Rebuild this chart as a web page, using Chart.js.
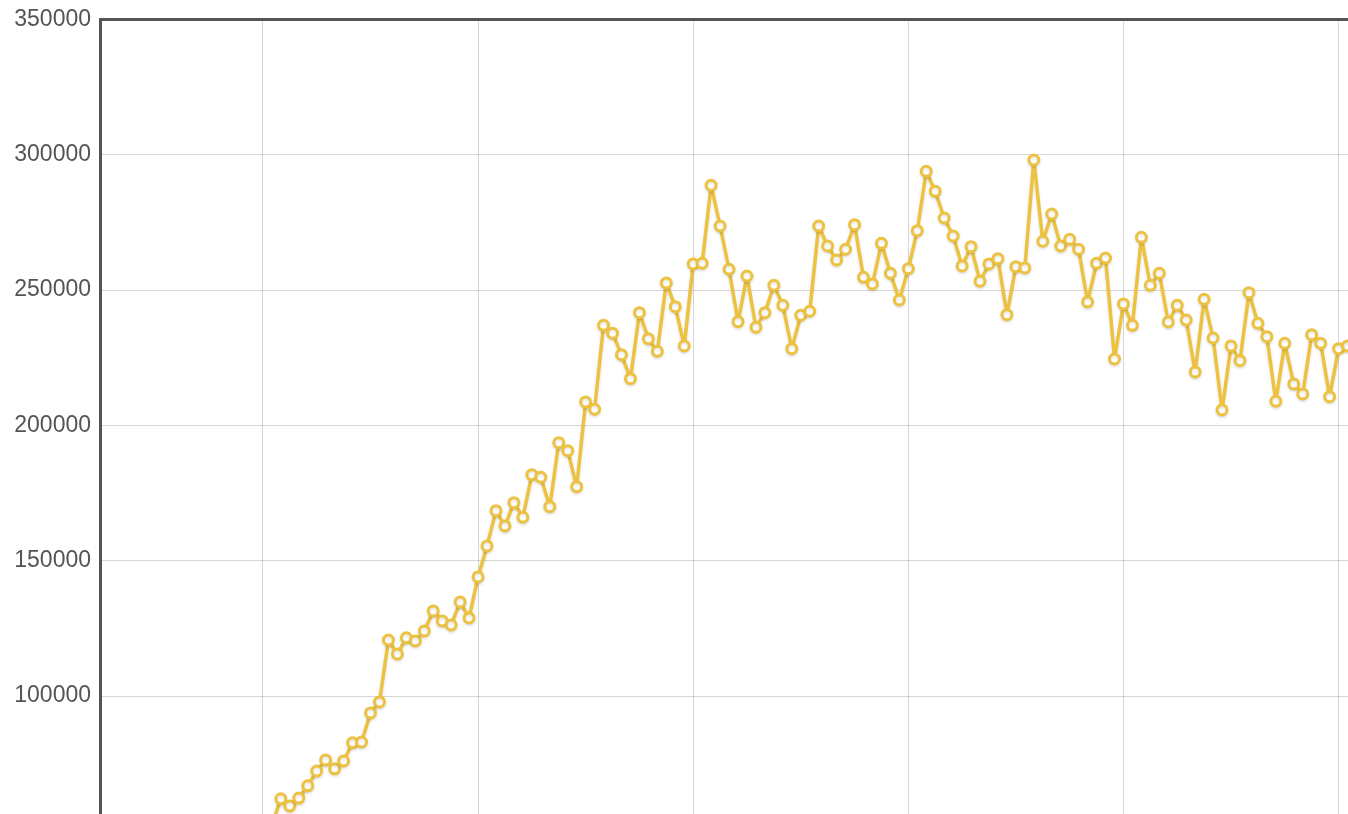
<!DOCTYPE html>
<html>
<head>
<meta charset="utf-8">
<script src="https://cdn.jsdelivr.net/npm/chart.js@4/dist/chart.umd.min.js"></script>
<style>
  html, body { margin: 0; padding: 0; background: #fff; overflow: hidden; }
  #wrap { width: 1348px; height: 814px; }
</style>
</head>
<body>
<div id="wrap"><canvas id="chart" width="1348" height="814"></canvas></div>
<script>
"use strict";

// period numbers start at 1, the first one sits below the visible range
const firstPeriod = 1;
const values = [
  52600,
  62000, 59400, 62300, 66800, 72300, 76400, 73100, 76000, 82700, 83000,
  93750, 97800, 120700, 115550, 121500, 120350, 124050, 131440, 127750, 126270,
  134770, 128850, 144000,
  155460, 168500, 162850, 171460, 166060, 181800, 180840, 169980, 193630, 190670,
  177370, 208670, 205970, 237000, 234050, 226140, 217280, 241660, 232060, 227400,
  252640, 243880, 229360,
  259660, 259920, 288740, 273700, 257700, 238340, 255220, 236270, 241660, 251790,
  244400, 228360, 240700, 242180, 273700, 266300, 261140, 265090, 274180, 254740,
  252270, 267300, 256220, 246350, 257920, 271960,
  293910, 286520, 276650, 270000, 258920, 266050, 253270, 259660, 261620, 240920,
  258660, 258180, 298090, 268050, 278130, 266300, 268780, 265090, 245620, 259920,
  261870, 224550, 244880, 237000, 269520,
  251790, 256220, 238230, 244400, 238970, 219750, 246610, 232310, 205710, 229360,
  223930, 249050, 237750, 232800, 208920, 230360, 215320, 211620, 233530, 230360,
  210630, 228360, 229360
];
const xTicks = [0, 24, 48, 72, 96, 120];
const yTicks = [100000, 150000, 200000, 250000, 300000, 350000];

const points = values.map(function (v, i) {
  return { x: firstPeriod + i, y: v };
});

const axisColor = "#545454";
const gridColor = "rgba(84,84,84,0.24)";
const lineColor = "#edc240";

// soft shadow under the line, like the original plot
const lineShadow = {
  id: "lineShadow",
  beforeDatasetDraw: function (chart) {
    const ctx = chart.ctx;
    ctx.save();
    ctx.shadowColor = "rgba(0,0,0,0.12)";
    ctx.shadowBlur = 3;
    ctx.shadowOffsetY = 1.5;
  },
  afterDatasetDraw: function (chart) {
    chart.ctx.restore();
  }
};

new Chart(document.getElementById("chart"), {
  type: "line",
  data: {
    datasets: [{
      data: points,
      borderColor: lineColor,
      borderWidth: 3.5,
      borderJoinStyle: "round",
      pointRadius: 5,
      pointBorderWidth: 3,
      pointBorderColor: lineColor,
      pointBackgroundColor: "#ffffff",
      tension: 0,
      fill: false,
      clip: 7
    }]
  },
  plugins: [lineShadow],
  options: {
    responsive: false,
    animation: false,
    layout: { autoPadding: false, padding: { top: 19.5, left: 0, right: 0, bottom: 0 } },
    plugins: { legend: { display: false }, tooltip: { enabled: false } },
    scales: {
      x: {
        type: "linear",
        position: "top",
        min: -18.18,
        max: 121.05,
        afterBuildTicks: function (scale) {
          scale.ticks = xTicks.map(function (v) { return { value: v }; });
        },
        afterFit: function (scale) {
          scale.height = 0;
          scale.paddingLeft = 0;
          scale.paddingRight = 0;
        },
        ticks: { display: false },
        grid: { color: gridColor, lineWidth: 1, drawTicks: false },
        border: { display: true, color: axisColor, width: 3 }
      },
      y: {
        min: 56400,
        max: 350000,
        afterBuildTicks: function (scale) {
          scale.ticks = yTicks.map(function (v) { return { value: v }; });
        },
        afterFit: function (scale) {
          scale.width = 100;
          scale.paddingTop = 0;
          scale.paddingBottom = 0;
        },
        ticks: {
          color: axisColor,
          padding: 9,
          font: { family: "'Liberation Sans', Arial, sans-serif", size: 23 },
          callback: function (v) { return String(v); }
        },
        grid: { color: gridColor, lineWidth: 1, drawTicks: false },
        border: { display: true, color: axisColor, width: 3 }
      }
    }
  }
});
</script>
</body>
</html>
